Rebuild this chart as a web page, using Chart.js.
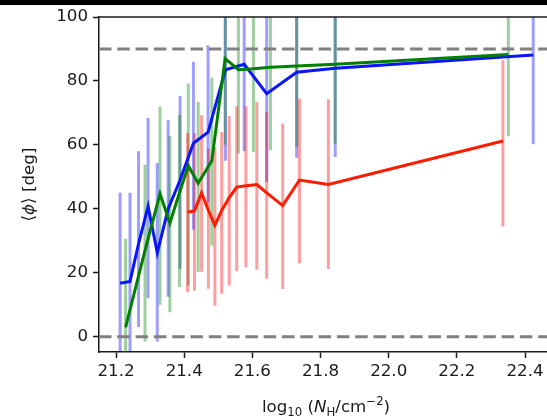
<!DOCTYPE html>
<html>
<head>
<meta charset="utf-8">
<script src="https://cdn.jsdelivr.net/npm/chart.js@4.4.1/dist/chart.umd.min.js"></script>
<style>
  html, body { margin: 0; padding: 0; background: #fff; overflow: hidden; }
  #topbar { position: absolute; left: 0; top: 0; width: 547px; height: 5px; background: #000; }
  canvas { position: absolute; left: 0; top: 0; }
</style>
</head>
<body>
<canvas id="phiChart" width="560" height="418"></canvas>
<div id="topbar"></div>
<script>
// tick labels
const xTicks = [21.2, 21.4, 21.6, 21.8, 22.0, 22.2, 22.4];
const yTicks = [0, 20, 40, 60, 80, 100];
const refLines = [0, 90];

// blue series
const blueX    = [21.212, 21.241, 21.266, 21.294, 21.321, 21.353, 21.388, 21.427, 21.470, 21.521, 21.576, 21.642, 21.730, 21.843, 22.424];
const blueMean = [16.7, 17.3, 29, 40.8, 26.2, 40, 49, 60.5, 64, 83.5, 85.2, 76, 82.7, 84, 88.1];
const blueLo   = [-15, -15, 3, 12, -1.5, 12.5, 21.2, 33.5, 42, 55, 58, 48.4, 55.9, 56.2, 60.2];
const blueHi   = [45, 45, 58, 68.4, 54.3, 67.7, 75.3, 86, 91.2, 110, 110, 110, 110, 110, 110];

// green series
const greenX    = [21.228, 21.285, 21.329, 21.358, 21.386, 21.412, 21.441, 21.481, 21.520, 21.559, 21.603, 21.653, 21.730, 21.843, 22.351];
const greenMean = [2.9, 27, 44.7, 35.5, 45, 53.5, 48, 55, 87, 83.5, 83.8, 84.3, 84.7, 85.2, 88.3];
const greenLo   = [-15, -1.5, 10, 7.6, 15.5, 16, 20.2, 28.5, 60, 57.3, 57.8, 58.3, 59.3, 60.4, 62.7];
const greenHi   = [30.6, 53.8, 71.9, 62.7, 69.3, 79.2, 73.4, 81, 110, 110, 110, 110, 110, 110, 110];

// red series
const redX    = [21.410, 21.430, 21.451, 21.471, 21.490, 21.510, 21.532, 21.554, 21.581, 21.613, 21.642, 21.689, 21.738, 21.823, 22.335];
const redMean = [39, 39.3, 45, 39.5, 34.8, 39.5, 43.5, 46.8, 47.2, 47.6, 45, 41, 49, 47.6, 61.2];
const redLo   = [13.9, 14.4, 20.3, 15, 9.7, 13.4, 16, 20.5, 21.7, 20.9, 18.1, 14.9, 23, 21.2, 34.5];
const redHi   = [63.7, 63.7, 69.3, 58.8, 59.3, 64, 69, 72.1, 72.1, 73.4, 70.3, 66.7, 74.5, 74.3, 86.5];

const X_MIN = 21.150, X_MAX = 22.482;
const Y_MIN = -4.8, Y_MAX = 100;
const FONT = 'DejaVu Sans';
const FS = 16.7;
const TXT = '#1a1a1a';

function pts(xs, ys) {
    return xs.map((x, i) => ({ x: x, y: ys[i] }));
}

// vertical error bars as broken line segments
function errSegs(xs, lo, hi) {
    const out = [];
    xs.forEach((x, i) => {
        out.push({ x: x, y: lo[i] }, { x: x, y: hi[i] }, { x: x, y: null });
    });
    return out;
}

function meanLine(xs, ys, color) {
    return { data: pts(xs, ys), borderColor: color, borderWidth: 3, pointRadius: 0, order: 1, borderJoinStyle: 'miter' };
}
function errLine(xs, lo, hi, color) {
    return { data: errSegs(xs, lo, hi), borderColor: color, borderWidth: 3, pointRadius: 0, spanGaps: false, order: 3, borderCapStyle: 'butt' };
}

const datasets = [
    meanLine(redX, redMean, '#ff1a00'),
    meanLine(greenX, greenMean, '#008000'),
    meanLine(blueX, blueMean, '#0a14ff'),
    errLine(redX, redLo, redHi, 'rgba(255,0,0,0.38)'),
    errLine(greenX, greenLo, greenHi, 'rgba(0,128,0,0.38)'),
    errLine(blueX, blueLo, blueHi, 'rgba(0,0,255,0.38)')
];
refLines.forEach(v => {
    datasets.push({
        data: [{ x: X_MIN, y: v }, { x: X_MAX, y: v }],
        borderColor: '#808080', borderWidth: 3, borderDash: [12.5, 5.8],
        pointRadius: 0, order: 2
    });
});

// top spine + axis titles with sub/superscripts
const framePlugin = {
    id: 'frame',
    afterDraw(chart) {
        const { ctx, chartArea } = chart;
        ctx.save();
        ctx.strokeStyle = TXT;
        ctx.lineWidth = 1.5;
        ctx.beginPath();
        ctx.moveTo(chartArea.left, chartArea.top);
        ctx.lineTo(chartArea.right, chartArea.top);
        ctx.stroke();

        ctx.fillStyle = TXT;
        ctx.textBaseline = 'alphabetic';
        // x title
        const big = FS + 'px "' + FONT + '"';
        const ital = 'italic ' + FS + 'px "' + FONT + '"';
        const small = (FS * 0.7) + 'px "' + FONT + '"';
        const parts = [
            { t: 'log', f: big, dy: 0 },
            { t: '10', f: small, dy: 4 },
            { t: ' (', f: big, dy: 0 },
            { t: 'N', f: ital, dy: 0 },
            { t: 'H', f: small, dy: 4 },
            { t: '/cm', f: big, dy: 0 },
            { t: '\u22122', f: small, dy: -7 },
            { t: ')', f: big, dy: 0 }
        ];
        let w = 0;
        parts.forEach(p => { ctx.font = p.f; p.w = ctx.measureText(p.t).width; w += p.w; });
        let x = (chartArea.left + chartArea.right) / 2 - w / 2;
        const base = 412;
        parts.forEach(p => { ctx.font = p.f; ctx.fillText(p.t, x, base + p.dy); x += p.w; });

        // y title
        ctx.translate(34, (chartArea.top + chartArea.bottom) / 2);
        ctx.rotate(-Math.PI / 2);
        const yparts = [
            { t: '\u27E8', f: big },
            { t: '\u03D5', f: ital },
            { t: '\u27E9 [deg]', f: big }
        ];
        w = 0;
        yparts.forEach(p => { ctx.font = p.f; p.w = ctx.measureText(p.t).width; w += p.w; });
        x = -w / 2;
        yparts.forEach(p => { ctx.font = p.f; ctx.fillText(p.t, x, 0); x += p.w; });
        ctx.restore();
    }
};

new Chart(document.getElementById('phiChart').getContext('2d'), {
    type: 'line',
    data: { datasets: datasets },
    plugins: [framePlugin],
    options: {
        responsive: false,
        animation: false,
        devicePixelRatio: 1,
        layout: { padding: { left: 0, right: 7, top: 17, bottom: 0 } },
        plugins: { legend: { display: false }, tooltip: { enabled: false } },
        scales: {
            x: {
                type: 'linear',
                min: X_MIN,
                max: X_MAX,
                afterBuildTicks: s => { s.ticks = xTicks.map(v => ({ value: v })); },
                afterFit: s => { s.height = 66; },
                ticks: {
                    font: { family: FONT, size: FS },
                    color: TXT,
                    padding: 4,
                    maxRotation: 0,
                    callback: v => v.toFixed(1)
                },
                grid: { drawOnChartArea: false, drawTicks: true, tickLength: 6, tickColor: TXT, tickWidth: 1.5 },
                border: { display: true, color: TXT, width: 1.5 }
            },
            y: {
                type: 'linear',
                min: Y_MIN,
                max: Y_MAX,
                afterBuildTicks: s => { s.ticks = yTicks.map(v => ({ value: v })); },
                afterFit: s => { s.width = 99; },
                ticks: {
                    font: { family: FONT, size: FS },
                    color: TXT,
                    padding: 5
                },
                grid: { drawOnChartArea: false, drawTicks: true, tickLength: 6, tickColor: TXT, tickWidth: 1.5 },
                border: { display: true, color: TXT, width: 1.5 }
            }
        }
    }
});
</script>
</body>
</html>
